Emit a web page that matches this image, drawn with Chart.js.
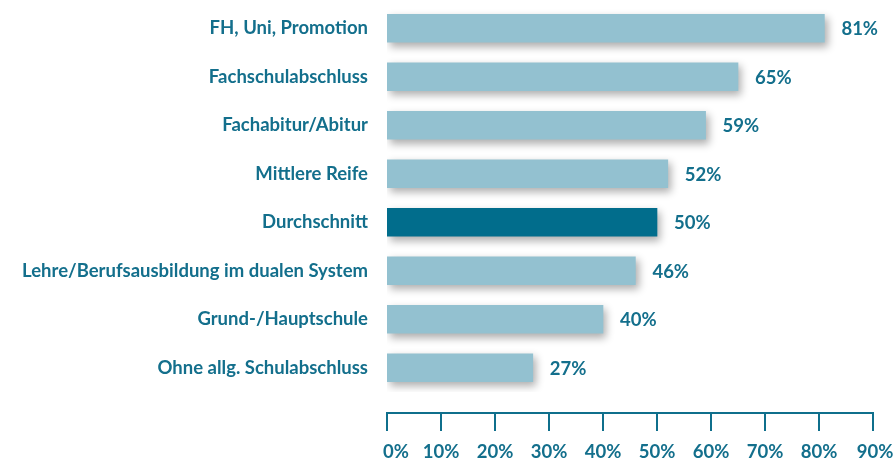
<!DOCTYPE html>
<html>
<head>
<meta charset="utf-8">
<script src="https://cdn.jsdelivr.net/npm/chart.js@4.4.1/dist/chart.umd.min.js"></script>
<style>
  html, body { margin: 0; padding: 0; background: #fff; }
  #wrap { width: 894px; height: 464px; }
</style>
</head>
<body>
<div id="wrap"><canvas id="eduChart"></canvas></div>
<script>
// categories and values (percent)
const categories = [
    'FH, Uni, Promotion',
    'Fachschulabschluss',
    'Fachabitur/Abitur',
    'Mittlere Reife',
    'Durchschnitt',
    'Lehre/Berufsausbildung im dualen System',
    'Grund-/Hauptschule',
    'Ohne allg. Schulabschluss'
];
const shares = [81, 65, 59, 52, 50, 46, 40, 27];
const tickValues = [0, 10, 20, 30, 40, 50, 60, 70, 80, 90];

const textColor = '#136f8c';
const fontFamily = 'Lato, "Open Sans", sans-serif';

// dark bar for the average, light bars for the rest
const barColors = categories.map(c => c === 'Durchschnitt' ? '#016d8c' : '#93c1d0');

// soft drop shadow under the bars
const shadowPlugin = {
    id: 'barShadow',
    beforeDatasetsDraw(chart) {
        const ctx = chart.ctx;
        ctx.save();
        ctx.shadowColor = 'rgba(0, 0, 0, 0.32)';
        ctx.shadowBlur = 8;
        ctx.shadowOffsetX = 3;
        ctx.shadowOffsetY = 4;
    },
    afterDatasetsDraw(chart) {
        chart.ctx.restore();
    }
};

// value labels right of each bar
const valueLabels = {
    id: 'valueLabels',
    afterDatasetsDraw(chart) {
        const ctx = chart.ctx;
        const meta = chart.getDatasetMeta(0);
        ctx.save();
        ctx.fillStyle = textColor;
        ctx.font = 'bold 18.5px ' + fontFamily;
        ctx.textAlign = 'left';
        ctx.textBaseline = 'middle';
        meta.data.forEach((bar, i) => {
            ctx.fillText(shares[i] + '%', bar.x + 17, bar.y + 1);
        });
        ctx.restore();
    }
};

// bottom axis drawn a bit below the bars, using the x scale
const bottomAxis = {
    id: 'bottomAxis',
    afterDraw(chart) {
        const ctx = chart.ctx;
        const x = chart.scales.x;
        const lineY = chart.chartArea.bottom + 21;
        ctx.save();
        ctx.strokeStyle = '#0f6f8c';
        ctx.lineWidth = 2;
        ctx.beginPath();
        ctx.moveTo(x.getPixelForValue(tickValues[0]) - 1, lineY);
        ctx.lineTo(x.getPixelForValue(tickValues[tickValues.length - 1]) + 1, lineY);
        tickValues.forEach(v => {
            const px = x.getPixelForValue(v);
            ctx.moveTo(px, lineY);
            ctx.lineTo(px, lineY + 18);
        });
        ctx.stroke();
        ctx.fillStyle = textColor;
        ctx.font = 'bold 18.5px ' + fontFamily;
        ctx.textAlign = 'center';
        ctx.textBaseline = 'middle';
        tickValues.forEach(v => {
            let px = x.getPixelForValue(v);
            if (v === 0) px += 9;
            if (v === 90) px += 2;
            ctx.fillText(v + '%', px, lineY + 39);
        });
        ctx.restore();
    }
};

const ctx = document.getElementById('eduChart').getContext('2d');
const chart = new Chart(ctx, {
    type: 'bar',
    data: {
        labels: categories,
        datasets: [{
            data: shares,
            backgroundColor: barColors,
            borderWidth: 0,
            barThickness: 28
        }]
    },
    options: {
        indexAxis: 'y',
        responsive: true,
        maintainAspectRatio: false,
        animation: false,
        layout: {
            padding: { top: 4, right: 21, bottom: 72, left: 0 }
        },
        plugins: {
            legend: { display: false },
            tooltip: { enabled: false }
        },
        scales: {
            x: {
                display: false,
                min: 0,
                max: 90
            },
            y: {
                offset: true,
                grid: { display: false, drawTicks: false },
                border: { display: false },
                afterFit(scale) {
                    scale.width = 387;
                    scale.paddingTop = 0;
                    scale.paddingBottom = 0;
                },
                ticks: {
                    padding: 19,
                    color: textColor,
                    font: { family: fontFamily, size: 18.5, weight: 'bold' }
                }
            }
        }
    },
    plugins: [shadowPlugin, valueLabels, bottomAxis]
});
</script>
</body>
</html>
